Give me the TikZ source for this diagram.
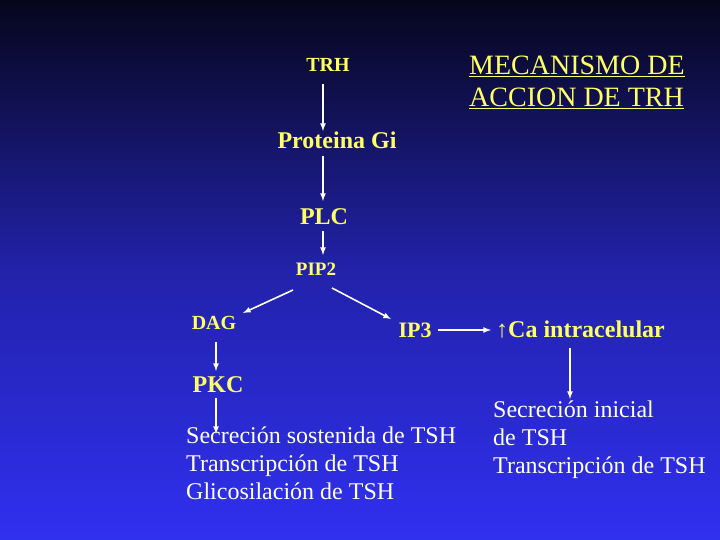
\documentclass[tikz,border=0pt]{standalone}
\usepackage{fontspec}
\setmainfont{Liberation Serif}
\definecolor{ytxt}{RGB}{255,255,102}
\definecolor{bgtop}{RGB}{6,6,28}
\definecolor{bgmid}{RGB}{34,34,170}
\definecolor{bgbot}{RGB}{48,48,240}
\begin{document}
\begin{tikzpicture}[x=1pt,y=-1pt,
  lab/.style={text=ytxt,font=\bfseries,inner sep=0pt},
  wtxt/.style={text=white,inner sep=0pt,align=left,font=\fontsize{24}{28}\selectfont},
  arr/.style={draw=white,line width=1.6pt,-latex}]
\shade[top color=bgtop,bottom color=bgbot,middle color=bgmid] (0,0) rectangle (720,540);
\useasboundingbox (0,0) rectangle (720,540);
\node[text=ytxt,inner sep=0pt,align=left,anchor=north west,font=\fontsize{28}{32}\selectfont] (title) at (469,56) {\underline{MECANISMO DE}\\\underline{ACCION DE TRH}};
\node[lab,font=\bfseries\fontsize{20}{22}\selectfont] (trh) at (328,65) {TRH};
\node[lab,font=\bfseries\fontsize{24}{26}\selectfont] (gi) at (337,140) {Proteina Gi};
\node[lab,font=\bfseries\fontsize{24}{26}\selectfont] (plc) at (324,217) {PLC};
\node[lab,font=\bfseries\fontsize{19}{22}\selectfont] (pip) at (316,269) {PIP2};
\node[lab,font=\bfseries\fontsize{20}{22}\selectfont] (dag) at (214,323) {DAG};
\node[lab,font=\bfseries\fontsize{22}{24}\selectfont] (ip3) at (415,330) {IP3};
\node[lab,font=\bfseries\fontsize{24}{26}\selectfont,anchor=west] (ca) at (496,330) {↑Ca intracelular};
\node[lab,font=\bfseries\fontsize{24}{26}\selectfont] (pkc) at (218,385) {PKC};
\node[wtxt,anchor=north west] (sec1) at (186,427) {Secreción sostenida de TSH\\Transcripción de TSH\\Glicosilación de TSH};
\node[wtxt,anchor=north west] (sec2) at (493,401) {Secreción inicial\\de TSH\\Transcripción de TSH};
\draw[arr] (323,84) -- (323,131);
\draw[arr] (323,156) -- (323,201);
\draw[arr] (323,231) -- (323,255);
\draw[arr] (293,290) -- (243,313);
\draw[arr] (332,288) -- (391,319);
\draw[arr] (438,330) -- (491,330);
\draw[arr] (216,342) -- (216,371);
\draw[arr] (216,398) -- (216,434);
\draw[arr] (570,348) -- (570,399);
\end{tikzpicture}
\end{document}
